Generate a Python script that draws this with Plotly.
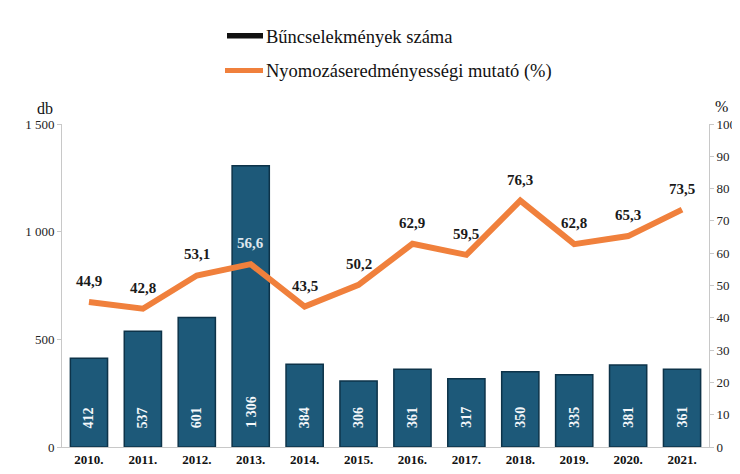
import plotly.graph_objects as go

years = ["2010.", "2011.", "2012.", "2013.", "2014.", "2015.", "2016.", "2017.", "2018.", "2019.", "2020.", "2021."]
crimes = [412, 537, 601, 1306, 384, 306, 361, 317, 350, 335, 381, 361]
crime_labels = ["412", "537", "601", "1 306", "384", "306", "361", "317", "350", "335", "381", "361"]
rate = [44.9, 42.8, 53.1, 56.6, 43.5, 50.2, 62.9, 59.5, 76.3, 62.8, 65.3, 73.5]
rate_labels = ["44,9", "42,8", "53,1", "56,6", "43,5", "50,2", "62,9", "59,5", "76,3", "62,8", "65,3", "73,5"]
left_ticks = [0, 500, 1000, 1500]
left_tick_text = ["0", "500", "1 000", "1 500"]
right_ticks = list(range(0, 101, 10))
legend_names = ["Bűncselekmények száma", "Nyomozáseredményességi mutató (%)"]

FONT = "'Liberation Serif', 'Times New Roman', serif"
OFF = 8  # page body margin offset
W, H = 740 - OFF, 474 - OFF
# plot area in page pixels: x 62..709, y 124..447
ML, MR, MT, MB = 62 - OFF, 740 - 709, 124 - OFF, 474 - 447
pw, ph = W - ML - MR, H - MT - MB


def px_x(x):
    return (x - OFF - ML) / pw


def px_y(y):
    return (H - MB - (y - OFF)) / ph


fig = go.Figure()
fig.add_trace(go.Bar(
    x=years, y=crimes, name=legend_names[0],
    marker=dict(color="#1d5979", line=dict(color="#0d3349", width=1.5)),
    width=0.69, yaxis="y", showlegend=False,
))
fig.add_trace(go.Scatter(
    x=years, y=rate, name=legend_names[1],
    mode="lines", line=dict(color="#f0803c", width=6),
    yaxis="y2", showlegend=False,
))

# bar value labels (rotated, white, near bar bottom); x = category index
for i, lab in enumerate(crime_labels):
    fig.add_annotation(x=i, y=0, xref="x", yref="y", text="<b>" + lab + "</b>", textangle=-90,
                       showarrow=False, yanchor="bottom", yshift=17,
                       font=dict(color="#f4f7fa", size=14, family=FONT))

# line value labels
for i, (v, lab) in enumerate(zip(rate, rate_labels)):
    col = "#dfe7ee" if i == 3 else "#1a1a1a"
    fig.add_annotation(x=i, y=v, xref="x", yref="y2", text="<b>" + lab + "</b>",
                       showarrow=False, yshift=21,
                       font=dict(color=col, size=15, family=FONT))

# legend drawn manually
fig.add_shape(type="rect", xref="paper", yref="paper",
              x0=px_x(227), x1=px_x(263), y0=px_y(38.5), y1=px_y(33),
              fillcolor="#111111", line=dict(width=0))
fig.add_shape(type="line", xref="paper", yref="paper",
              x0=px_x(225), x1=px_x(263), y0=px_y(70.5), y1=px_y(70.5),
              line=dict(color="#f0803c", width=5))
fig.add_annotation(text=legend_names[0], x=px_x(264), y=px_y(37), xref="paper", yref="paper",
                   showarrow=False, xanchor="left", yanchor="middle",
                   font=dict(size=18.5, family=FONT, color="#111111"))
fig.add_annotation(text=legend_names[1], x=px_x(264), y=px_y(72), xref="paper", yref="paper",
                   showarrow=False, xanchor="left", yanchor="middle",
                   font=dict(size=18.5, family=FONT, color="#111111"))

# axis unit titles
fig.add_annotation(text="db", x=px_x(35), y=px_y(98), xref="paper", yref="paper",
                   showarrow=False, font=dict(size=16, family=FONT, color="#111111"))
fig.add_annotation(text="%", x=px_x(730), y=px_y(96), xref="paper", yref="paper",
                   showarrow=False, font=dict(size=16, family=FONT, color="#111111"))

fig.update_layout(
    width=W, height=H,
    margin=dict(l=ML, r=MR, t=MT, b=MB, autoexpand=False),
    paper_bgcolor="white", plot_bgcolor="white",
    font=dict(family=FONT, size=13, color="#222222"),
    showlegend=False,
    bargap=0.31,
    xaxis=dict(type="category", range=[-0.5, len(years) - 0.5], showline=True,
               linecolor="#c8c8c8", ticks="", showgrid=False, automargin=False,
               tickfont=dict(size=13, family=FONT, weight="bold", color="#111111")),
    yaxis=dict(range=[0, 1500], tickvals=left_ticks, ticktext=left_tick_text, automargin=False,
               showline=True, linecolor="#c8c8c8", ticks="outside", ticklen=4,
               tickcolor="#c8c8c8", showgrid=False, zeroline=False,
               tickfont=dict(size=13, family=FONT, color="#222222")),
    yaxis2=dict(range=[0, 100], tickvals=right_ticks, overlaying="y", side="right", automargin=False,
                showline=True, linecolor="#c8c8c8", ticks="outside", ticklen=4,
                tickcolor="#c8c8c8", showgrid=False, zeroline=False,
                tickfont=dict(size=13, family=FONT, color="#222222")),
)

fig.write_html("out.html")
